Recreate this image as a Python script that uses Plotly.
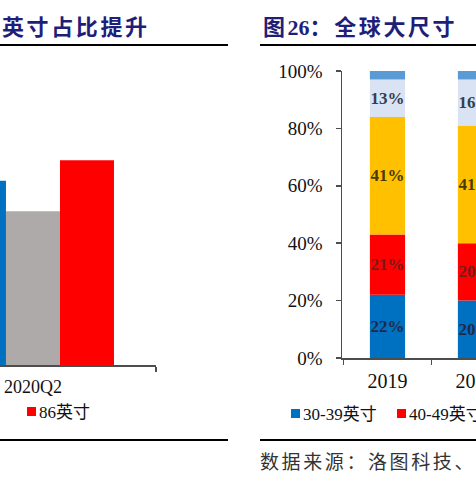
import plotly.graph_objects as go

W, H = 476, 477

# ---- left chart data (partly visible) ----
left_categories = ["2020Q2"]
left_series = ["65英寸", "75英寸", "86英寸"]
left_values = [9.0, 7.5, 10.0]
left_colors = ["#0070C0", "#AEAAAA", "#FF0000"]

# ---- right chart data ----
right_years = ["2019", "2020"]
right_series = ["30-39英寸", "40-49英寸", "50-59英寸", "60-69英寸", "70英寸以上"]
right_values = [
    [22, 20],
    [21, 20],
    [41, 41],
    [13, 16],
    [3, 3],
]
right_colors = ["#0070C0", "#FF0000", "#FFC000", "#DAE3F3", "#5B9BD5"]
right_text_colors = ["#1F2A4A", "#7A1A1A", "#4A3A05", "#333F50", "#333F50"]
right_labeled = [True, True, True, True, False]

SERIF = "Liberation Serif, Noto Sans CJK SC"
CJK = "Noto Sans CJK SC"


def px(x):
    return x / W


def py(y):
    return 1 - y / H


fig = go.Figure()

# left grouped bars
n = len(left_series)
bw = 0.2195
for i, (name, val, col) in enumerate(zip(left_series, left_values, left_colors)):
    fig.add_trace(go.Bar(
        x=left_categories, y=[val], name=name,
        width=bw, offset=-n * bw / 2 + i * bw,
        marker=dict(color=col, line=dict(width=0)),
        xaxis="x", yaxis="y", showlegend=False, hoverinfo="skip",
    ))

# right stacked bars (cumulative bases)
cum = [0] * len(right_years)
for name, vals, col, tcol, lab in zip(right_series, right_values, right_colors,
                                      right_text_colors, right_labeled):
    fig.add_trace(go.Bar(
        x=right_years, y=vals, base=list(cum), name=name,
        width=0.4, offset=-0.2,
        marker=dict(color=col, line=dict(width=0)),
        text=[f"{v}%" for v in vals] if lab else None,
        textposition="inside", insidetextanchor="middle", textangle=0,
        constraintext="none",
        textfont=dict(family=SERIF, size=17, color=tcol, weight="bold"),
        xaxis="x2", yaxis="y2", showlegend=False, hoverinfo="skip",
    ))
    cum = [c + v for c, v in zip(cum, vals)]

axis_col = "#4D4D4D"

# legend keys (visible parts of the two legends)
legend_items = [
    # (label, colour, square-left px, square-top px)
    ("86英寸", left_colors[2], 27, 407),
    (right_series[0], right_colors[0], 291, 409),
    (right_series[1], right_colors[1], 397, 409),
]
SQ = 9
shapes = [
    dict(type="line", xref="paper", yref="paper", x0=0, x1=px(228),
         y0=py(45), y1=py(45), line=dict(color="#000", width=2)),
    dict(type="line", xref="paper", yref="paper", x0=px(260), x1=1,
         y0=py(45), y1=py(45), line=dict(color="#000", width=2)),
    dict(type="line", xref="paper", yref="paper", x0=0, x1=px(228),
         y0=py(440), y1=py(440), line=dict(color="#000", width=2)),
    dict(type="line", xref="paper", yref="paper", x0=px(260), x1=1,
         y0=py(440), y1=py(440), line=dict(color="#000", width=2)),
]
SP_T = "<span style='letter-spacing:2.6px'>"
annotations = [
    dict(text=f"<b>{SP_T}英寸占比提升</span></b>", xref="paper", yref="paper",
         x=0, y=py(25), xanchor="left", yanchor="middle",
         showarrow=False,
         font=dict(family=CJK, size=22, color="#1F1F7A")),
    dict(text=f"<b>{SP_T}图</span><span style='font-family:Liberation Serif'>26</span>"
              f"{SP_T}：全球大尺寸</span></b>",
         xref="paper", yref="paper",
         x=px(261), y=py(25), xanchor="left", yanchor="middle",
         showarrow=False,
         font=dict(family=CJK, size=22, color="#1F1F7A")),
    dict(text="<span style='letter-spacing:2.6px'>数据来源：洛图科技、</span>",
         xref="paper", yref="paper",
         x=px(258), y=py(460), xanchor="left", yanchor="middle",
         showarrow=False, font=dict(family=CJK, size=19, color="#333")),
]
for label, col, sx, sy in legend_items:
    shapes.append(dict(type="rect", xref="paper", yref="paper",
                       x0=px(sx), x1=px(sx + SQ), y0=py(sy + SQ), y1=py(sy),
                       fillcolor=col, line=dict(width=0)))
    annotations.append(dict(text=label, xref="paper", yref="paper",
                            x=px(sx + SQ + 1), y=py(sy + SQ / 2 + 1),
                            xanchor="left", yanchor="middle", showarrow=False,
                            font=dict(family=SERIF, size=17, color="#111")))

fig.update_layout(
    width=W, height=H,
    margin=dict(l=0, r=0, t=0, b=0, pad=0, autoexpand=False),
    paper_bgcolor="white", plot_bgcolor="white",
    barmode="overlay", showlegend=False,
    xaxis=dict(domain=[0, px(156)], type="category", range=[-0.134, 0.5],
               showline=True, linecolor=axis_col, linewidth=1.5,
               ticks="outside", tickson="boundaries", ticklen=5,
               tickcolor=axis_col, tickwidth=1.5, ticklabelstandoff=5,
               tickfont=dict(family=SERIF, size=18, color="#111"),
               showgrid=False, zeroline=False, anchor="y", fixedrange=True,
               automargin=False),
    yaxis=dict(domain=[py(365), py(70)], range=[0, 14.4], visible=False,
               anchor="x", fixedrange=True, automargin=False),
    xaxis2=dict(domain=[px(342), 1], type="category", range=[-0.517, 1.006],
                showline=True, linecolor=axis_col, linewidth=1.5,
                ticks="outside", tickson="boundaries", ticklen=5,
                tickcolor=axis_col, tickwidth=1.5, ticklabelstandoff=4,
                tickfont=dict(family=SERIF, size=20, color="#111"),
                showgrid=False, zeroline=False, anchor="y2", fixedrange=True,
                automargin=False),
    yaxis2=dict(domain=[py(358), py(71)], range=[0, 100], dtick=20,
                ticksuffix="%", showline=True, linecolor=axis_col,
                linewidth=1.5, ticks="outside", ticklen=5, tickcolor=axis_col,
                tickwidth=1.5, ticklabelstandoff=9,
                tickfont=dict(family=SERIF, size=19, color="#111"),
                showgrid=False, zeroline=False, anchor="x2", fixedrange=True,
                automargin=False),
    shapes=shapes,
    annotations=annotations,
)

fig.write_html(
    "out.html",
    config={"displayModeBar": False, "staticPlot": True},
    post_script="document.body.style.margin='0';document.body.style.overflow='hidden';",
)
